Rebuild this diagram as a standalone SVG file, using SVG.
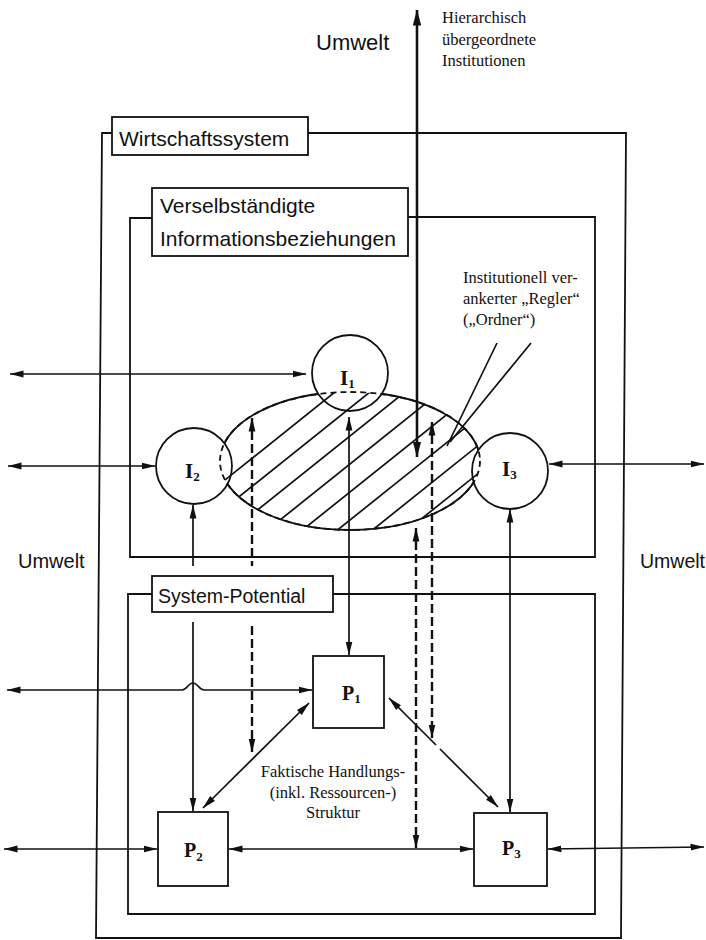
<svg xmlns="http://www.w3.org/2000/svg" width="706" height="940" viewBox="0 0 706 940">
<style>
.box{fill:none;stroke:#111;stroke-width:1.8}
.lbl{fill:#fff;stroke:#111;stroke-width:1.8}
.mask{fill:#fff;stroke:none}
.sans{font-family:"Liberation Sans",Arial,sans-serif;fill:#111}
.serif{font-family:"Liberation Serif","Times New Roman",serif;fill:#111}
.node{font-family:"Liberation Serif","Times New Roman",serif;font-weight:bold;fill:#111}
.ln{stroke:#111;stroke-width:1.7;fill:none}
.thick{stroke:#111;stroke-width:2.6;fill:none}
.dash{stroke:#111;stroke-width:2.4;stroke-dasharray:9 4;fill:none}
.hatch{stroke:#111;stroke-width:1.7;fill:none}
.circ{fill:#fff;stroke:#111;stroke-width:1.8}
.pbox{fill:#fff;stroke:#111;stroke-width:1.8}
</style>
<defs>
<marker id="ah" viewBox="0 0 14 8" refX="13.5" refY="4" markerWidth="14" markerHeight="8" markerUnits="userSpaceOnUse" orient="auto-start-reverse"><path d="M0,0.6 L14,4 L0,7.4 z" fill="#111"/></marker>
<marker id="ahb" viewBox="0 0 16 10" refX="15.5" refY="5" markerWidth="16" markerHeight="10" markerUnits="userSpaceOnUse" orient="auto-start-reverse"><path d="M0,0.8 L16,5 L0,9.2 z" fill="#111"/></marker>
<clipPath id="ellclip"><ellipse cx="350" cy="461" rx="130" ry="69"/></clipPath>
</defs>

<g id="connectors">
<line class="ln" x1="10" y1="374" x2="306" y2="374" marker-start="url(#ah)" marker-end="url(#ah)"/>
<line class="ln" x1="8" y1="466" x2="155" y2="466" marker-start="url(#ah)" marker-end="url(#ah)"/>
<line class="ln" x1="549" y1="464" x2="704" y2="464" marker-start="url(#ah)" marker-end="url(#ah)"/>
<line class="ln" x1="193" y1="505" x2="193" y2="811" marker-start="url(#ah)" marker-end="url(#ah)"/>
<path class="ln" d="M7,690 H182 C187,690 188,683 193,683 C198,683 199,690 204,690 H312" marker-start="url(#ah)" marker-end="url(#ah)"/>
<line class="dash" x1="252" y1="418" x2="252" y2="752" marker-start="url(#ah)" marker-end="url(#ah)"/>
<line class="ln" x1="349" y1="417" x2="349" y2="655" marker-start="url(#ah)" marker-end="url(#ah)"/>
<line class="thick" x1="417" y1="10" x2="417" y2="457" marker-start="url(#ahb)" marker-end="url(#ahb)"/>
<line class="dash" x1="416" y1="528" x2="416" y2="848" marker-start="url(#ah)" marker-end="url(#ah)"/>
<line class="dash" x1="432" y1="422" x2="432" y2="738" marker-start="url(#ah)" marker-end="url(#ah)"/>
<line class="ln" x1="510" y1="509" x2="510" y2="812" marker-start="url(#ah)" marker-end="url(#ah)"/>
<line class="ln" x1="309" y1="703" x2="203" y2="808" marker-start="url(#ah)" marker-end="url(#ah)"/>
<line class="ln" x1="389" y1="698" x2="436" y2="745" marker-start="url(#ah)"/>
<line class="ln" x1="440" y1="749" x2="498" y2="807" marker-end="url(#ah)"/>
<line class="ln" x1="229" y1="849" x2="473" y2="849" marker-start="url(#ah)" marker-end="url(#ah)"/>
<line class="ln" x1="4" y1="849" x2="157" y2="849" marker-start="url(#ah)" marker-end="url(#ah)"/>
<line class="ln" x1="548" y1="849" x2="704" y2="847" marker-start="url(#ah)" marker-end="url(#ah)"/>
<line class="ln" x1="497" y1="343" x2="447" y2="446"/>
<line class="ln" x1="531" y1="343" x2="450" y2="442"/>
</g>

<g id="frame-wirtschaftssystem">
<path class="box" d="M112,133 H102 L96,938 H621 L626,133 H308"/>
<rect class="lbl" x="112" y="117" width="196" height="38"/>
<text class="sans" x="119" y="146" font-size="21">Wirtschaftssystem</text>
</g>

<g id="frame-informationsbeziehungen">
<path class="box" d="M152,218 H130 V557 H595 V217 H408"/>
<rect class="lbl" x="152" y="188" width="256" height="68"/>
<text class="sans" x="160" y="213" font-size="21">Verselbständigte</text>
<text class="sans" x="160" y="246" font-size="21">Informationsbeziehungen</text>
</g>

<g id="frame-system-potential">
<path class="box" d="M152,594 H128 V914 H595 V594 H333"/>
<rect class="mask" x="153" y="566" width="179" height="56"/>
<rect class="lbl" x="152" y="576" width="181" height="36"/>
<text class="sans" x="158" y="603" font-size="19.5">System-Potential</text>
</g>

<g id="regler-ellipse">
<ellipse cx="350" cy="461" rx="130" ry="69" fill="none" stroke="#111" stroke-width="1.8"/>
</g>

<g id="node-I1">
<circle class="circ" cx="350" cy="373" r="38"/>
</g>
<g id="node-I2">
<circle class="circ" cx="194" cy="466" r="38"/>
</g>
<g id="node-I3">
<circle class="circ" cx="510" cy="471" r="38"/>
</g>

<g id="hatching" clip-path="url(#ellclip)">
<line class="hatch" x1="200" y1="500" x2="520" y2="244"/>
<line class="hatch" x1="200" y1="528" x2="520" y2="272"/>
<line class="hatch" x1="200" y1="556" x2="520" y2="300"/>
<line class="hatch" x1="200" y1="584" x2="520" y2="328"/>
<line class="hatch" x1="200" y1="612" x2="520" y2="356"/>
<line class="hatch" x1="200" y1="640" x2="520" y2="384"/>
<line class="hatch" x1="200" y1="668" x2="520" y2="412"/>
<line class="hatch" x1="200" y1="696" x2="520" y2="440"/>
<line class="hatch" x1="200" y1="724" x2="520" y2="468"/>
</g>
<ellipse cx="350" cy="461" rx="130" ry="69" fill="none" stroke="#111" stroke-width="1.8" stroke-dasharray="6 4"/>

<g id="node-labels-I">
<text class="node" x="340" y="385" font-size="21">I<tspan font-size="13" dy="3">1</tspan></text>
<text class="node" x="185" y="478" font-size="21">I<tspan font-size="13" dy="3">2</tspan></text>
<text class="node" x="502" y="476" font-size="21">I<tspan font-size="13" dy="3">3</tspan></text>
</g>

<g id="node-P1">
<rect class="pbox" x="313" y="656" width="71" height="72"/>
<text class="node" x="342" y="700" font-size="20">P<tspan font-size="13" dy="3">1</tspan></text>
</g>
<g id="node-P2">
<rect class="pbox" x="158" y="812" width="70" height="74"/>
<text class="node" x="184" y="857" font-size="20">P<tspan font-size="13" dy="4">2</tspan></text>
</g>
<g id="node-P3">
<rect class="pbox" x="474" y="813" width="73" height="73"/>
<text class="node" x="502" y="855" font-size="20">P<tspan font-size="13" dy="3">3</tspan></text>
</g>

<g id="labels">
<text class="sans" x="316" y="50" font-size="22">Umwelt</text>
<text class="serif" x="442" y="23" font-size="16.5">Hierarchisch</text>
<text class="serif" x="442" y="45" font-size="16.5">übergeordnete</text>
<text class="serif" x="442" y="66" font-size="16.5">Institutionen</text>
<text class="serif" x="463" y="283" font-size="16.5">Institutionell ver-</text>
<text class="serif" x="463" y="304" font-size="16.5">ankerter „Regler“</text>
<text class="serif" x="463" y="325" font-size="16.5">(„Ordner“)</text>
<text class="sans" x="18" y="568" font-size="20">Umwelt</text>
<text class="sans" x="705" y="568" font-size="19.5" text-anchor="end">Umwelt</text>
<text class="serif" x="333" y="777" font-size="16.5" text-anchor="middle">Faktische Handlungs-</text>
<text class="serif" x="333" y="798" font-size="16.5" text-anchor="middle">(inkl. Ressourcen-)</text>
<text class="serif" x="333" y="818" font-size="16.5" text-anchor="middle">Struktur</text>
</g>
</svg>
